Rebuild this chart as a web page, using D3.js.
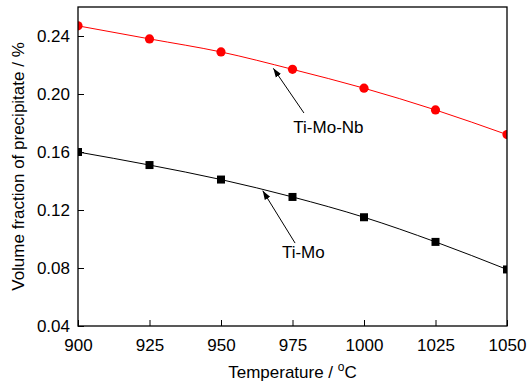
<!DOCTYPE html>
<html>
<head>
<meta charset="utf-8">
<script src="https://cdn.jsdelivr.net/npm/d3@7"></script>
<style>
  body { margin: 0; background: #fff; }
  svg text { font-family: "Liberation Sans", Arial, sans-serif; }
</style>
</head>
<body>
<svg id="chart" width="530" height="385"></svg>
<script>
// temperatures (C)
const temps = [900, 925, 950, 975, 1000, 1025, 1050]
// volume fraction of precipitate (%)
const tiMoNb = [0.247, 0.238, 0.229, 0.217, 0.204, 0.189, 0.172]
const tiMo   = [0.160, 0.151, 0.141, 0.129, 0.115, 0.098, 0.079]
const xTicks = [900, 925, 950, 975, 1000, 1025, 1050]
const yTicks = [0.04, 0.08, 0.12, 0.16, 0.20, 0.24]
// labels with arrows: text pos, arrow tail, arrow tip (data units)
const notes = [
  { label: 'Ti-Mo-Nb', text: [975.3, 0.1731], tail: [979, 0.1869], tip: [968.3, 0.2177] },
  { label: 'Ti-Mo',    text: [971.3, 0.0869], tail: [975.9, 0.0972], tip: [964.6, 0.1333] }
]

const margin = { top: 7, right: 23, bottom: 59, left: 78 }
const W = 530, H = 385
const w = W - margin.left - margin.right
const h = H - margin.top - margin.bottom
const fs = 17

const svg = d3.select('#chart')
const g = svg.append('g').attr('transform', `translate(${margin.left},${margin.top})`)

const x = d3.scaleLinear().domain([900, 1050]).range([0, w])
const y = d3.scaleLinear().domain([0.04, 0.26]).range([h, 0])

// clip so edge markers get cut by the frame
svg.append('defs').append('clipPath').attr('id', 'clip')
  .append('rect').attr('width', w).attr('height', h)

svg.select('defs').append('marker')
  .attr('id', 'arrow').attr('viewBox', '0 0 10 10')
  .attr('refX', 10).attr('refY', 5)
  .attr('markerWidth', 9).attr('markerHeight', 9)
  .attr('markerUnits', 'userSpaceOnUse')
  .attr('orient', 'auto')
  .append('path').attr('d', 'M0,1.5 L10,5 L0,8.5 Z').attr('fill', '#000')

// axes, ticks inward
const xAxis = g.append('g').attr('transform', `translate(0,${h})`)
  .call(d3.axisBottom(x).tickValues(xTicks).tickSize(-6).tickPadding(13).tickFormat(d3.format('d')))
const yAxis = g.append('g')
  .call(d3.axisLeft(y).tickValues(yTicks).tickSize(-6).tickPadding(8).tickFormat(d3.format('.2f')))

;[xAxis, yAxis].forEach(a => {
  a.select('.domain').remove()
  a.selectAll('line').attr('stroke', '#000').attr('stroke-width', 1)
  a.selectAll('text').attr('font-size', fs).attr('fill', '#000')
    .attr('font-family', '"Liberation Sans", Arial, sans-serif')
})

const plot = g.append('g').attr('clip-path', 'url(#clip)')

const line = d3.line().x((d, i) => x(temps[i])).y(d => y(d)).curve(d3.curveMonotoneX)

plot.append('path').datum(tiMo).attr('d', line)
  .attr('fill', 'none').attr('stroke', '#000').attr('stroke-width', 1)
plot.append('path').datum(tiMoNb).attr('d', line)
  .attr('fill', 'none').attr('stroke', '#ff0000').attr('stroke-width', 1)

plot.selectAll('rect.sq').data(tiMo).join('rect').attr('class', 'sq')
  .attr('x', (d, i) => x(temps[i]) - 4).attr('y', d => y(d) - 4)
  .attr('width', 8).attr('height', 8).attr('fill', '#000')

plot.selectAll('circle.dot').data(tiMoNb).join('circle').attr('class', 'dot')
  .attr('cx', (d, i) => x(temps[i])).attr('cy', d => y(d))
  .attr('r', 4.6).attr('fill', '#ff0000')

// frame
g.append('rect').attr('width', w).attr('height', h)
  .attr('fill', 'none').attr('stroke', '#000').attr('stroke-width', 1.3)

// annotations
notes.forEach(n => {
  g.append('line')
    .attr('x1', x(n.tail[0])).attr('y1', y(n.tail[1]))
    .attr('x2', x(n.tip[0])).attr('y2', y(n.tip[1]))
    .attr('stroke', '#000').attr('stroke-width', 1)
    .attr('marker-end', 'url(#arrow)')
  g.append('text').attr('x', x(n.text[0])).attr('y', y(n.text[1]))
    .attr('font-size', fs).text(n.label)
})

// axis titles
const xt = svg.append('text').attr('x', margin.left + w / 2).attr('y', 378)
  .attr('text-anchor', 'middle').attr('font-size', fs)
xt.append('tspan').text('Temperature / ')
xt.append('tspan').attr('font-size', 12).attr('dy', -7).text('o')
xt.append('tspan').attr('dy', 7).text('C')

svg.append('text')
  .attr('transform', `translate(24,${margin.top + h / 2}) rotate(-90)`)
  .attr('text-anchor', 'middle').attr('font-size', fs)
  .text('Volume fraction of precipitate / %')
</script>
</body>
</html>
